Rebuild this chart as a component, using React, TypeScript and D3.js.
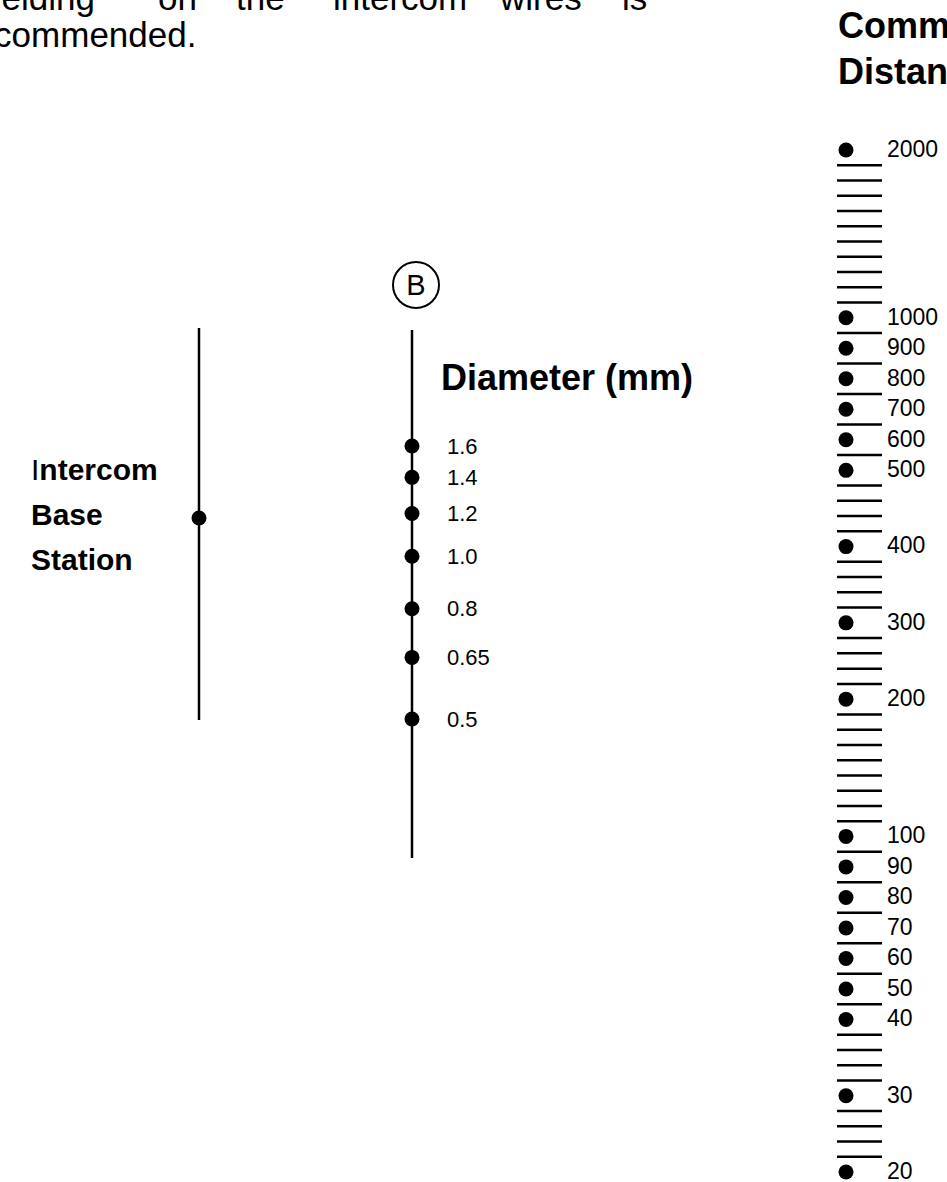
import * as d3 from 'd3'
import React from 'react'

// nomogram scales
const diameterValues = [1.6, 1.4, 1.2, 1.0, 0.8, 0.65, 0.5]
const diameterLabels = ['1.6', '1.4', '1.2', '1.0', '0.8', '0.65', '0.5']

const distanceLabels = ['2000', '1000', '900', '800', '700', '600', '500', '400', '300', '200',
    '100', '90', '80', '70', '60', '50', '40', '30', '20']
// number of plain tick lines between one labelled value and the next
const distanceGaps = [10, 1, 1, 1, 1, 1, 4, 4, 4, 8, 1, 1, 1, 1, 1, 1, 4, 4]

const baseLabel = ['Intercom', 'Base', 'Station']
const distanceTitle = ['Communication', 'Distance (m)']
const introWords = ['shielding', 'on', 'the', 'intercom', 'wires', 'is']
const introEnd = 'recommended.'

const W = 947
const H = 1182
const font = 'Liberation Sans, Arial, sans-serif'

type Slot = { label: string | null }

const App: React.FC = () => {
    // build the ladder of slots: dots with labels and plain lines in between
    const slots: Slot[] = []
    distanceLabels.forEach((lab, i) => {
        slots.push({ label: lab })
        if (i < distanceGaps.length) {
            for (let k = 0; k < distanceGaps[i]; k++) slots.push({ label: null })
        }
    })
    const ladder = d3.scalePoint<number>()
        .domain(d3.range(slots.length))
        .range([150, 1172])

    const diam = d3.scaleLog()
        .domain([1.6, 0.5])
        .range([446, 719])

    const leftX = 199
    const midX = 412
    const rightX = 846

    // justified first line of the paragraph above the chart
    const wordX = d3.scaleOrdinal<string, number>()
        .domain(introWords)
        .range([95, 158, 236, 333, 500, 622])

    return (
        <svg width={W} height={H} style={{ position: 'absolute', left: 0, top: 0 }}
            fontFamily={font}>
            <rect width={W} height={H} fill="#fff" />

            {/* paragraph text, cut by the crop */}
            <g fontSize={35} fill="#000">
                {introWords.map((w, i) => (
                    <text key={w} x={wordX(w)} y={10} textAnchor={i === 0 ? 'end' : 'start'}>{w}</text>
                ))}
                <text x={-37} y={47}>{introEnd}</text>
            </g>

            {/* left scale: intercom base station */}
            <line x1={leftX} x2={leftX} y1={328} y2={720} stroke="#000" strokeWidth={2.5} />
            <circle cx={leftX} cy={518} r={7.5} fill="#000" />
            <g fontSize={30} fontWeight="bold">
                {baseLabel.map((t, i) => (
                    <text key={t} x={31} y={480 + i * 45}>
                        {i === 0 ? <><tspan fontWeight="normal">{t[0]}</tspan>{t.slice(1)}</> : t}
                    </text>
                ))}
            </g>

            {/* middle scale: wire diameter */}
            <circle cx={midX + 4} cy={285} r={23} fill="none" stroke="#000" strokeWidth={2} />
            <text x={midX + 4} y={295} textAnchor="middle" fontSize={29}>B</text>
            <line x1={midX} x2={midX} y1={330} y2={858} stroke="#000" strokeWidth={2.5} />
            <text x={441} y={390} fontSize={36} fontWeight="bold">Diameter (mm)</text>
            {diameterValues.map((v, i) => (
                <g key={v}>
                    <circle cx={midX} cy={diam(v)} r={7.5} fill="#000" />
                    <text x={447} y={diam(v)} dy="0.35em" fontSize={22}>{diameterLabels[i]}</text>
                </g>
            ))}

            {/* right scale: communication distance */}
            <g fontSize={36} fontWeight="bold">
                {distanceTitle.map((t, i) => (
                    <text key={t} x={838} y={38 + i * 46}>{t}</text>
                ))}
            </g>
            {slots.map((s, i) => s.label ? (
                <g key={i}>
                    <circle cx={rightX} cy={ladder(i)} r={7.5} fill="#000" />
                    <text x={887} y={ladder(i)} dy="0.3em" fontSize={23}>{s.label}</text>
                </g>
            ) : (
                <line key={i} x1={837} x2={882} y1={ladder(i)} y2={ladder(i)}
                    stroke="#000" strokeWidth={2.5} />
            ))}
        </svg>
    )
}

export default App
